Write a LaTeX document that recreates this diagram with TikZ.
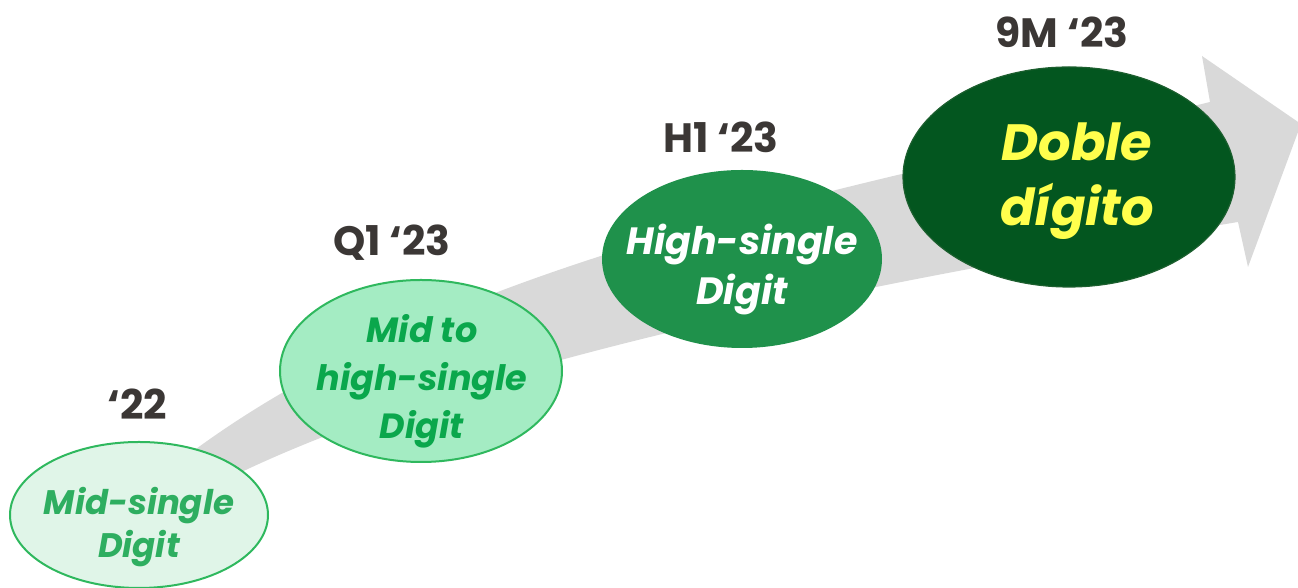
\documentclass[tikz,border=0pt]{standalone}
\usepackage{fontspec}
\setmainfont{Poppins}
\usetikzlibrary{shapes.geometric}
\newcommand{\Unit}{0.5pt}
\definecolor{band}{HTML}{D9D9D9}
\definecolor{ink}{HTML}{3B3735}
\definecolor{mint}{HTML}{E0F5E8}
\definecolor{mintline}{HTML}{2FB85E}
\definecolor{mintink}{HTML}{2EAE60}
\definecolor{spring}{HTML}{A4ECC3}
\definecolor{springink}{HTML}{0AA74C}
\definecolor{leaf}{HTML}{1F914B}
\definecolor{forest}{HTML}{03561F}
\definecolor{forestline}{HTML}{1D5F2F}
\definecolor{lemon}{HTML}{FFFF4D}

\begin{document}
\begin{tikzpicture}[x=\Unit,y=\Unit, line join=round,
  blob/.style={ellipse, inner sep=0pt, line width=1pt},
  stamp/.style={font=\fontsize{20.5}{24}\selectfont\bfseries, text=ink},
  claim/.style n args={3}{align=center, text=#1,
    font=\fontsize{#2}{#3}\selectfont\bfseries\itshape}]

  \useasboundingbox (0,0) rectangle (1298,588);

  % ---- band: one tapering grey arrow, under everything else ---------------
  \fill[band] (150,103) .. controls (420,330) and (860,400) .. (1210,486)
    -- (1202,532) -- (1301,464) -- (1248,321) -- (1238,366)
    .. controls (938,316) and (420,228) .. (170,78) -- cycle;

  % ---- ellipses, lightest first -------------------------------------------
  \node[blob, fill=mint, draw=mintline, minimum width=129pt, minimum height=73pt] (e22) at (139,73) {};
  \node[blob, fill=spring, draw=mintline, minimum width=141pt, minimum height=91pt] (eq1) at (421,217) {};
  \node[blob, fill=leaf, minimum width=140pt, minimum height=89pt] (eh1) at (742,329) {};
  \node[blob, fill=forest, draw=forestline, line width=0.6pt, minimum width=166pt, minimum height=110pt] (e9m) at (1069,411) {};

  % ---- what each period reached -------------------------------------------
  \node[claim={mintink}{17}{21.5}] (t22) at (139,61) {Mid-single\\Digit};
  \node[claim={springink}{17.5}{24}] (tq1) at (422,207) {Mid to\\high-single\\Digit};
  \node[claim={white}{19}{25}] (th1) at (742,318) {High-single\\Digit};
  \node[claim={lemon}{25.5}{32.5}] (t9m) at (1077,407) {Doble\\dígito};

  % ---- period labels above ------------------------------------------------
  \node[stamp] (l22) at (137,184) {‘22};
  \node[stamp] (lq1) at (392,345) {Q1 ‘23};
  \node[stamp] (lh1) at (721,451) {H1 ‘23};
  \node[stamp] (l9m) at (1062,556) {9M ‘23};

\end{tikzpicture}
\end{document}
